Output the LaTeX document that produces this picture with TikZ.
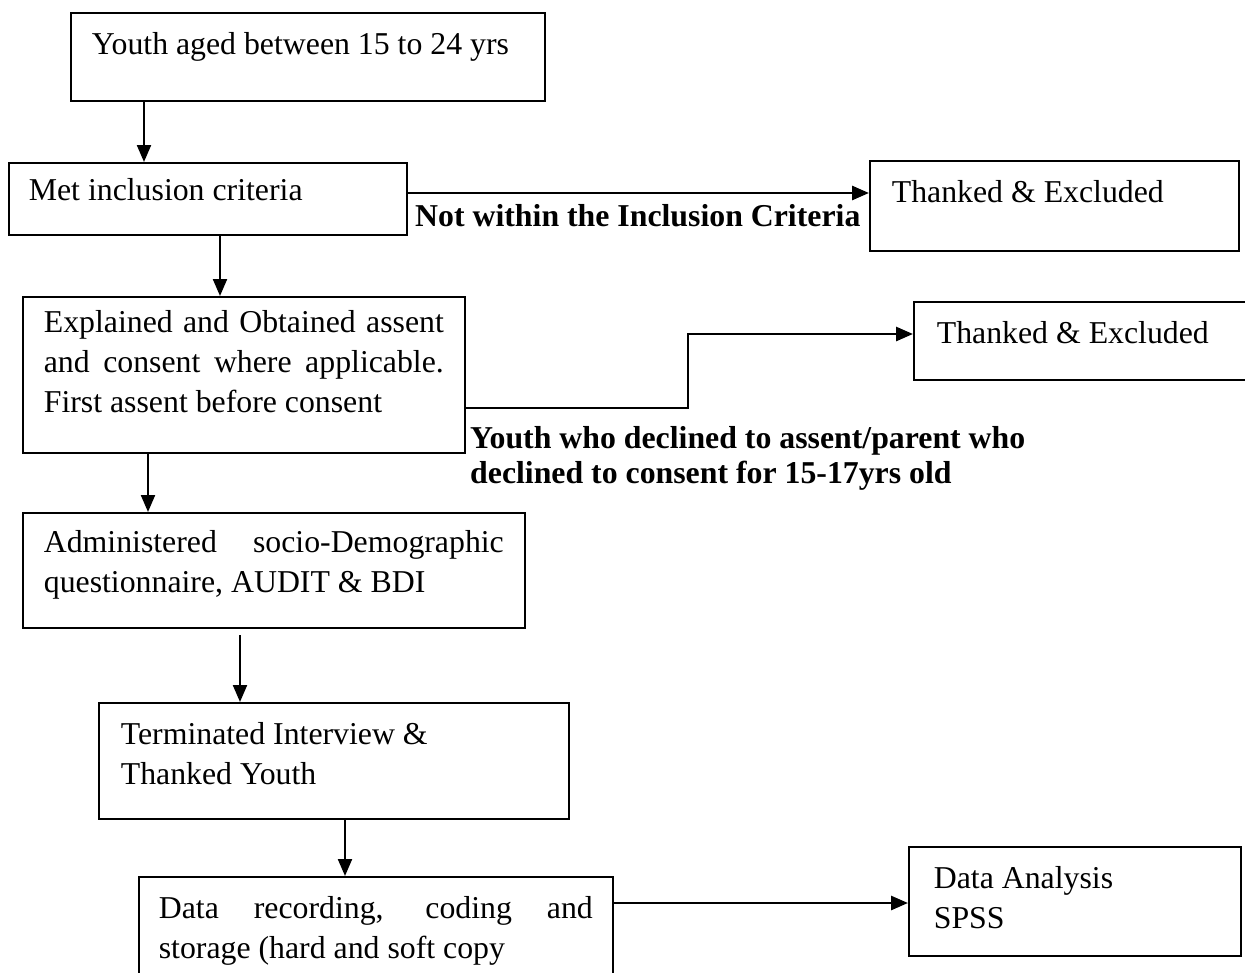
\documentclass[tikz,border=0pt]{standalone}
\usepackage{fontspec}
\setmainfont{Liberation Serif}
\usepackage{tikz}
\usetikzlibrary{arrows.meta, positioning}
\tikzset{>=latex}
\newcommand{\boxtext}[3]{\parbox[c][#2][t]{#1}{\strut#3}}

\begin{document}
\begin{tikzpicture}[x=1pt, y=-1pt,
            font=\fontsize{31.8}{40}\selectfont,
            block/.style={rectangle, draw, line width=1.7pt, inner xsep=21pt, inner ysep=14pt, anchor=north west},
            note/.style={font=\fontsize{31.8}{35}\selectfont\bfseries, inner sep=0pt, align=left},
            arrow/.style={line width=2.2pt, -{Triangle[length=17pt, width=14pt]}},
            side-arrow/.style={arrow, line width=2.8pt}
        ]
        \useasboundingbox (0,0) rectangle (1245,972);
        \clip (0,0) rectangle (1245,972);

        % Main column
        \node[block] (youth) at (70,12) {\boxtext{432pt}{60pt}{\raggedright Youth aged between 15 to 24 yrs}};
        \node[block, inner xsep=20pt, inner ysep=10pt] (criteria) at (8,162) {\boxtext{358pt}{52pt}{\raggedright Met inclusion criteria}};
        \node[block, inner ysep=8pt] (consent) at (22,296) {\boxtext{400pt}{140pt}{Explained and Obtained assent\linebreak and consent where applicable.\linebreak First assent before consent}};
        \node[block, inner ysep=12pt] (questionnaire) at (22,512) {\boxtext{460pt}{91pt}{Administered socio-Demographic\linebreak questionnaire, AUDIT \& BDI}};
        \node[block, inner xsep=22pt] (terminate) at (98,702) {\boxtext{426pt}{88pt}{\raggedright Terminated Interview \&\\ Thanked Youth}};
        \node[block, inner xsep=20pt] (recording) at (138,876) {\boxtext{434pt}{86pt}{Data recording, coding and\linebreak storage (hard and soft copy}};

        % Side blocks
        \node[block, inner xsep=22pt] (excluded1) at (869,160) {\boxtext{325pt}{62pt}{\raggedright Thanked \& Excluded}};
        \node[block, inner xsep=23pt] (excluded2) at (913,301) {\boxtext{291pt}{50pt}{\raggedright Thanked \& Excluded}};
        \node[block, inner xsep=25pt] (analysis) at (908,846) {\boxtext{282pt}{81pt}{\raggedright Data Analysis\\ SPSS}};

        % Branch labels
        \node[note, anchor=base west] (notwithin) at (415,226) {Not within the Inclusion Criteria};
        \node[note, anchor=north west] (declined) at (470,426) {Youth who declined to assent/parent who\\ declined to consent for 15-17yrs old};

        % Arrows
        \draw[arrow] (144,0 |- youth.south) -- (144,0 |- criteria.north);
        \draw[arrow] (220,0 |- criteria.south) -- (220,0 |- consent.north);
        \draw[arrow] (148,0 |- consent.south) -- (148,0 |- questionnaire.north);
        \draw[arrow] (240,635) -- (240,0 |- terminate.north);
        \draw[arrow] (345,0 |- terminate.south) -- (345,0 |- recording.north);
        \draw[side-arrow] (criteria.east |- 0,193) -- (excluded1.west |- 0,193);
        \draw[side-arrow] (consent.east |- 0,408) -| (688,334) -- (688,334 -| excluded2.west);
        \draw[side-arrow] (recording.east |- 0,903) -- (analysis.west |- 0,903);

    \end{tikzpicture}
\end{document}
